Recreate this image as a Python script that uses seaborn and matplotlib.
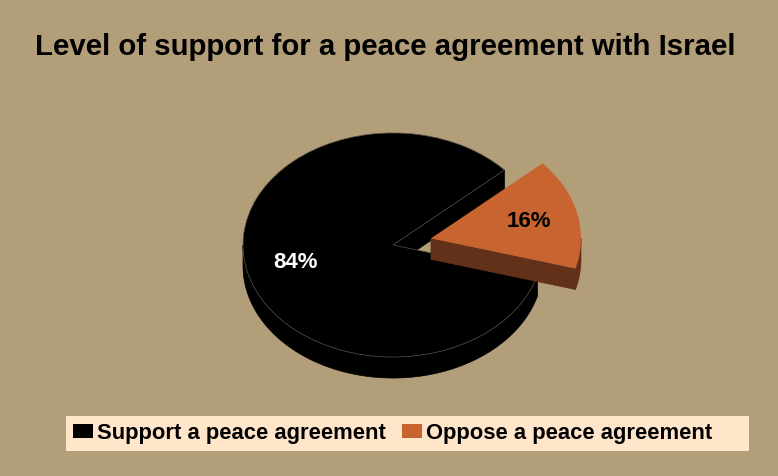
import numpy as np
import matplotlib
matplotlib.use("Agg")
import matplotlib.pyplot as plt
import seaborn as sns
from matplotlib.patches import Polygon, Rectangle, Patch
from matplotlib.transforms import Affine2D

sns.set_theme(style="white")
plt.rcParams['font.family'] = ['Liberation Sans', 'DejaVu Sans']
plt.rcParams['text.color'] = 'black'

# ---- data ----
categories = ["Support a peace agreement", "Oppose a peace agreement"]
values = [84, 16]
title = "Level of support for a peace agreement with Israel"

# ---- style ----
bg = "#B39E7A"
top_colors = ["#000000", "#C8642F"]
side_colors = ["#000000", "#63311A"]
label_colors = ["white", "black"]
edge_colors = ["#5a5240", "none"]
W, H = 778, 476
CX, CY = 393, H - 245
RX, SQ = 150, 0.747
THICK = 21

fig = plt.figure(figsize=(W / 100, H / 100), dpi=100, facecolor=bg)
ax = fig.add_axes([0, 0, 1, 1])
ax.set_facecolor(bg)

squash = Affine2D().scale(1, SQ).translate(CX, CY) + ax.transData

wedges, texts, autotexts = ax.pie(
    values, radius=RX, center=(0, 0), startangle=42, counterclock=True,
    explode=[0, 0.26 * RX], autopct="%1.0f%%", pctdistance=0.67,
    colors=top_colors, labels=None, frame=True,
    textprops=dict(fontsize=16, fontweight="bold"))
ax.set_xlim(0, W)
ax.set_ylim(0, H)
ax.set_aspect("auto")
ax.axis("off")


def to_px(x, y):
    return CX + x, CY + SQ * y


for i, w in enumerate(wedges):
    w.set_transform(squash)
    w.set_zorder(3 + 2 * i)
    w.set_edgecolor(edge_colors[i])
    w.set_linewidth(0.5)
    cx, cy = w.center
    r = w.r
    t1, t2 = w.theta1, w.theta2
    polys = []
    # radial faces
    for t, vis in ((t1, np.cos(np.radians(t1)) > 0), (t2, np.cos(np.radians(t2)) < 0)):
        if vis:
            ox, oy = cx + r * np.cos(np.radians(t)), cy + r * np.sin(np.radians(t))
            p0 = to_px(cx, cy)
            p1 = to_px(ox, oy)
            polys.append([p0, p1, (p1[0], p1[1] - THICK), (p0[0], p0[1] - THICK)])
    # outer wall (front half: 180..360)
    for off in (0, 360):
        a = max(t1, 180 + off)
        b = min(t2, 360 + off)
        if b > a:
            th = np.radians(np.linspace(a, b, 80))
            top = [to_px(cx + r * np.cos(t), cy + r * np.sin(t)) for t in th]
            bot = [(x, y - THICK) for x, y in top[::-1]]
            polys.append(top + bot)
    for p in polys:
        ax.add_patch(Polygon(p, closed=True, facecolor=side_colors[i],
                             edgecolor=side_colors[i], linewidth=0.5,
                             zorder=2 + 2 * i))

for i, t in enumerate(autotexts):
    t.set_transform(squash)
    t.set_color(label_colors[i])
    t.set_zorder(10)

fig.text(35 / W, 1 - 47 / H, title, fontsize=21.2, fontweight="bold",
         color="black", ha="left", va="center")

# legend background
fig.patches.append(Rectangle((66 / W, 1 - 451 / H), (749 - 66) / W, 35 / H,
                             transform=fig.transFigure, facecolor="#FFE5C9",
                             edgecolor="none", zorder=0))
handles = [Patch(facecolor=top_colors[i], edgecolor="none") for i in range(2)]
fig.legend(handles, categories, ncol=2, frameon=False,
           loc="center left", bbox_to_anchor=(73 / W, 1 - 433.5 / H),
           prop=dict(size=15.8, weight="bold"), handlelength=0.92,
           handleheight=0.6, handletextpad=0.18, columnspacing=0.72,
           borderaxespad=0, borderpad=0, labelcolor="black")

fig.savefig("out.png", dpi=100, facecolor=bg)
